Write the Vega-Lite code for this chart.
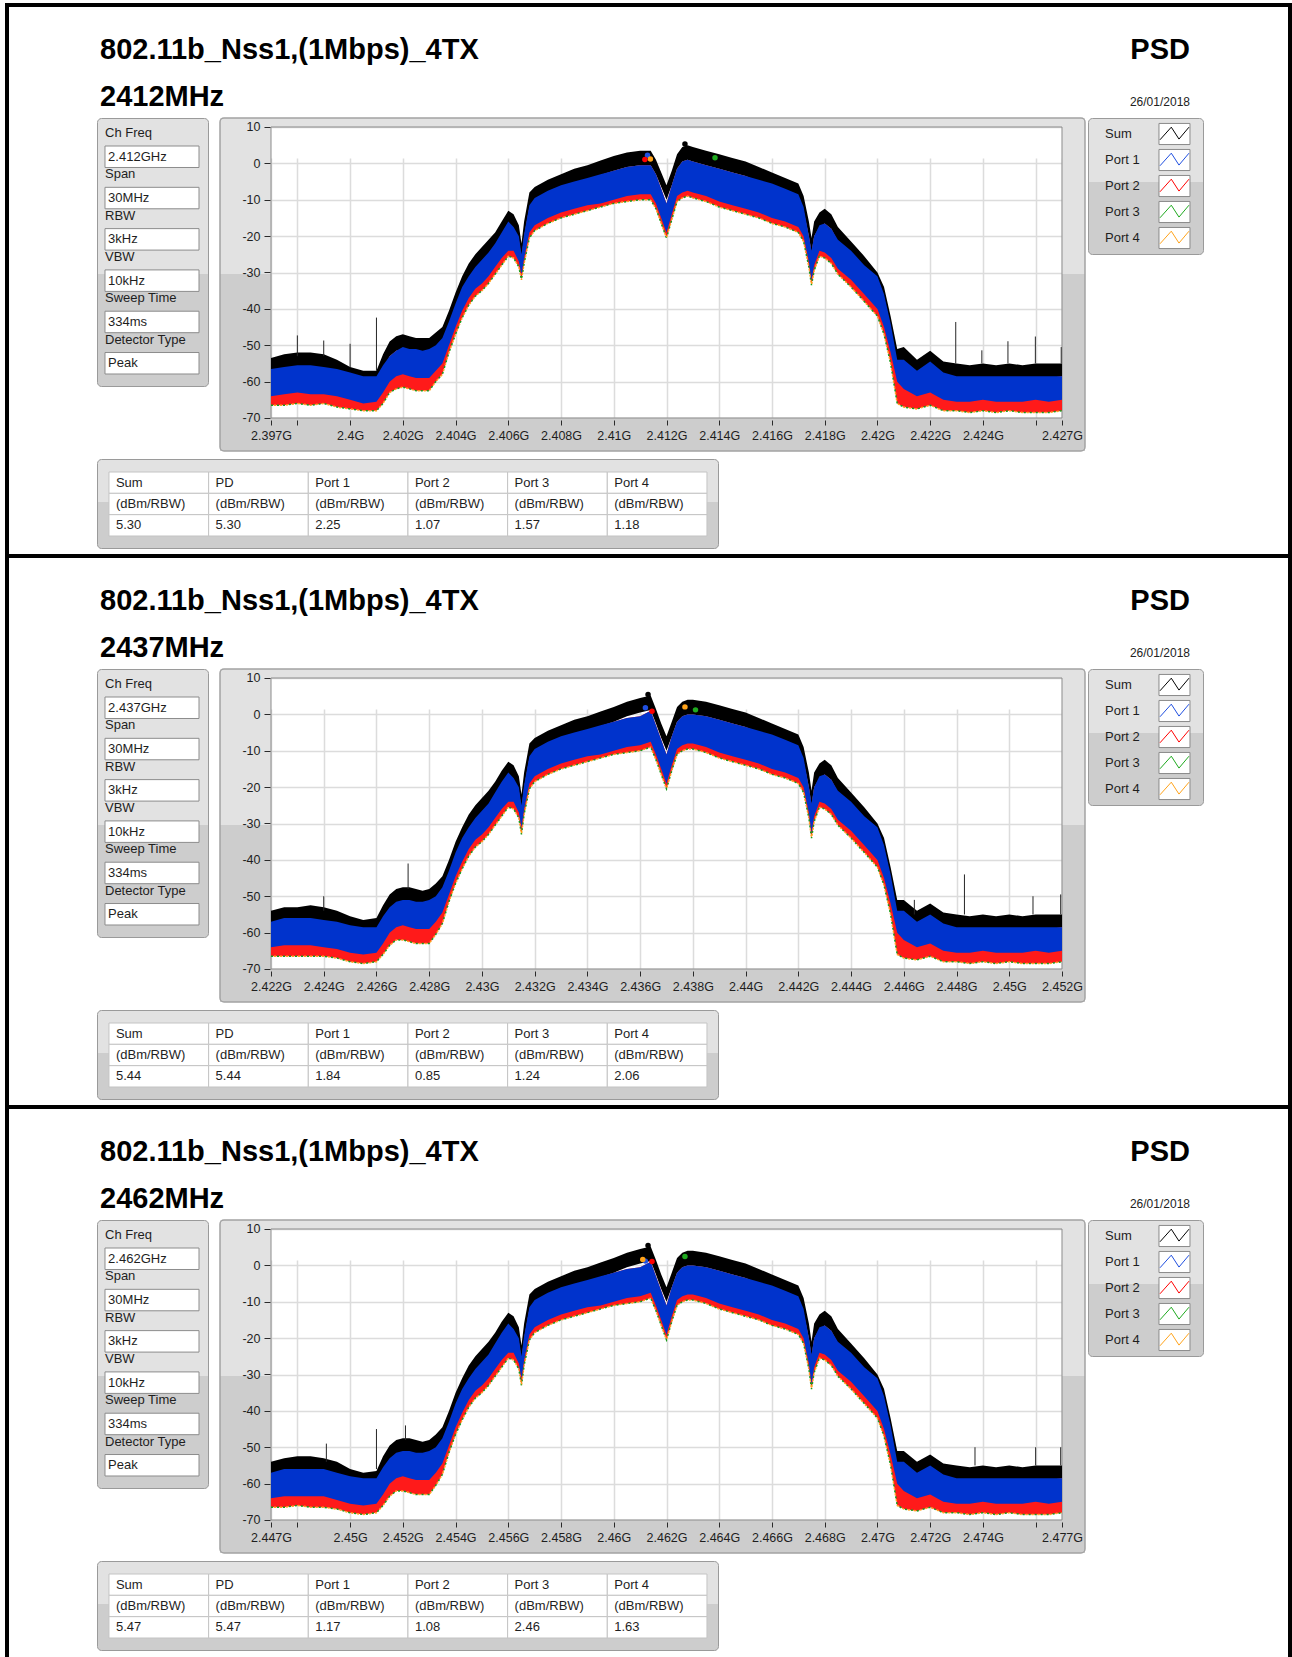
{
"$schema":"https://vega.github.io/schema/vega-lite/v6.json",
"padding":{"left":5,"top":3,"right":0,"bottom":0},
"background":"white",
"config":{"view":{"stroke":null},"font":"Liberation Sans","axis":{"labelFont":"Liberation Sans","labelFontSize":12.5,"labelColor":"#1e1e1e","tickColor":"#2a2a2a","tickWidth":1,"gridColor":"#dcdcdc","gridWidth":1.5,"domain":false,"minExtent":0}},
"spacing":0,
"hconcat":[
{"width":4,"height":1654,"data":{"values":[]},"mark":"rect","view":{"fill":"#000000","stroke":null}},
{"spacing":5,"vconcat":[
{"spacing":0,"vconcat":[
 {"width":1279,"height":4,"data":{"values":[]},"mark":"rect","view":{"fill":"#000000","stroke":null}},
 {"width":1279,"height":110,"view":{"fill":"white","stroke":null},
  "data":{"values":[{"c":"L","l":"1","t":"802.11b_Nss1,(1Mbps)_4TX"},{"c":"L","l":"2","t":"2412MHz"},{"c":"R","l":"1","t":"PSD"},{"c":"R","l":"2","t":"26/01/2018"}]},
  "encoding":{"x":{"field":"c","type":"nominal","scale":{"type":"point","domain":["L","R"],"padding":0.0867,"align":0.4815},"axis":null},"y":{"field":"l","type":"nominal","scale":{"type":"point","domain":["1","2"],"padding":0.67,"align":0.825},"axis":null},"text":{"field":"t"}},
  "layer":[
   {"transform":[{"filter":"datum.c=='L'"}],"mark":{"type":"text","align":"left","baseline":"alphabetic","font":"Liberation Sans","fontSize":29,"fontWeight":"bold","color":"#000000"}},
   {"transform":[{"filter":"datum.c=='R'&&datum.l=='1'"}],"mark":{"type":"text","align":"right","baseline":"alphabetic","font":"Liberation Sans","fontSize":29,"fontWeight":"bold","color":"#000000"}},
   {"transform":[{"filter":"datum.c=='R'&&datum.l=='2'"}],"mark":{"type":"text","align":"right","baseline":"alphabetic","font":"Liberation Sans","fontSize":12,"color":"#222222"}}
  ]},
 {"spacing":0,"hconcat":[
  {"width":87,"height":1,"data":{"values":[]},"mark":"rect","view":{"fill":"white","stroke":null}},
  {"width":111,"height":268,
   "view":{"fill":{"gradient":"linear","x1":0,"y1":0,"x2":0,"y2":1,"stops":[{"offset":0,"color":"#e2e2e2"},{"offset":0.58,"color":"#e2e2e2"},{"offset":0.58,"color":"#cdcdcd"},{"offset":1,"color":"#cdcdcd"}]},"stroke":"#9a9a9a","cornerRadius":4},
   "data":{"values":[{"p":"Ch Freq","v":"2.412GHz"},{"p":"Span","v":"30MHz"},{"p":"RBW","v":"3kHz"},{"p":"VBW","v":"10kHz"},{"p":"Sweep Time","v":"334ms"},{"p":"Detector Type","v":"Peak"}]},
   "resolve":{"scale":{"y":"independent"}},
   "layer":[
    {"mark":{"type":"rect","fill":"white","stroke":"#8c8c8c","strokeWidth":1},"encoding":{"y":{"field":"p","type":"nominal","sort":null,"scale":{"type":"band","paddingInner":0.48,"paddingOuter":0.4845,"align":0.7},"axis":null},"x":{"datum":0.072,"type":"quantitative","scale":{"domain":[0,1]},"axis":null},"x2":{"datum":0.919}}},
    {"mark":{"type":"text","align":"left","baseline":"middle","font":"Liberation Sans","fontSize":13,"color":"#1e1e1e"},"encoding":{"y":{"field":"p","type":"nominal","sort":null,"scale":{"type":"band","paddingInner":0.48,"paddingOuter":0.4845,"align":0.7},"axis":null},"x":{"datum":0.1,"type":"quantitative","scale":{"domain":[0,1]},"axis":null},"text":{"field":"v"}}},
    {"mark":{"type":"text","align":"left","baseline":"middle","font":"Liberation Sans","fontSize":13,"color":"#1e1e1e"},"encoding":{"y":{"field":"p","type":"nominal","sort":null,"scale":{"type":"point","padding":0.7445,"align":0.244},"axis":null},"x":{"datum":0.072,"type":"quantitative","scale":{"domain":[0,1]},"axis":null},"text":{"field":"p"}}}
   ]},
  {"width":878,"height":340,"view":{"fill":"white","stroke":null},
   "resolve":{"scale":{"x":"independent","y":"independent"}},
   "layer":[
    {"data":{"values":[{}]},
     "layer":[
      {"mark":{"type":"rect","fill":"white"},"encoding":{"x":{"datum":2394.6485,"type":"quantitative","scale":{"domain":[2394.6485,2427.9482],"nice":false,"zero":false},"title":null,"axis":{"orient":"bottom","grid":false,"domain":false,"values":[2397,2398,2400,2402,2404,2406,2408,2410,2412,2414,2416,2418,2420,2422,2424,2426,2427],"labelExpr":"datum.value==2398||datum.value==2426?'':format(datum.value/1000,'.4~f')+'G'","tickSize":5,"offset":-38,"labelPadding":4,"labelFlush":false,"labelOverlap":false,"zindex":1,"minExtent":0}},"x2":{"datum":2395.0657},"y":{"datum":-80.9966,"type":"quantitative","scale":{"domain":[-80.9966,12.4742],"nice":false,"zero":false},"title":null,"axis":{"orient":"left","grid":false,"domain":false,"values":[-70,-60,-50,-40,-30,-20,-10,0,10],"labelExpr":"''+datum.value","tickSize":6,"offset":-61,"labelPadding":4,"zindex":1,"minExtent":0}},"y2":{"datum":12.4742}}},
      {"mark":{"type":"rect","fill":"white"},"encoding":{"x":{"datum":2427.8723,"type":"quantitative","title":null},"x2":{"datum":2427.9482},"y":{"datum":-80.9966,"type":"quantitative","title":null},"y2":{"datum":12.4742}}},
      {"mark":{"type":"rect","fill":"white"},"encoding":{"x":{"datum":2394.6485,"type":"quantitative","title":null},"x2":{"datum":2427.9482},"y":{"datum":-80.9966,"type":"quantitative","title":null},"y2":{"datum":-79.072}}},
      {"mark":{"type":"rect","fill":{"gradient":"linear","x1":0,"y1":0,"x2":0,"y2":1,"stops":[{"offset":0,"color":"#e2e2e2"},{"offset":0.4685,"color":"#e2e2e2"},{"offset":0.4685,"color":"#cdcdcd"},{"offset":1,"color":"#cdcdcd"}]}},"encoding":{"x":{"datum":2395.0657,"type":"quantitative","title":null},"x2":{"datum":2397},"y":{"datum":-79.072,"type":"quantitative","title":null},"y2":{"datum":12.4742}}},
      {"mark":{"type":"rect","fill":{"gradient":"linear","x1":0,"y1":0,"x2":0,"y2":1,"stops":[{"offset":0,"color":"#e2e2e2"},{"offset":0.4685,"color":"#e2e2e2"},{"offset":0.4685,"color":"#cdcdcd"},{"offset":1,"color":"#cdcdcd"}]}},"encoding":{"x":{"datum":2427,"type":"quantitative","title":null},"x2":{"datum":2427.8723},"y":{"datum":-79.072,"type":"quantitative","title":null},"y2":{"datum":12.4742}}},
      {"mark":{"type":"rect","fill":"#e2e2e2"},"encoding":{"x":{"datum":2397,"type":"quantitative","title":null},"x2":{"datum":2427},"y":{"datum":10,"type":"quantitative","title":null},"y2":{"datum":12.4742}}},
      {"mark":{"type":"rect","fill":"#cdcdcd"},"encoding":{"x":{"datum":2397,"type":"quantitative","title":null},"x2":{"datum":2427},"y":{"datum":-79.072,"type":"quantitative","title":null},"y2":{"datum":-70}}},
      {"mark":{"type":"rect","fillOpacity":0,"stroke":"#a3a3a3","strokeWidth":1.5,"cornerRadius":4},"encoding":{"x":{"datum":2395.0657,"type":"quantitative","title":null},"x2":{"datum":2427.8723},"y":{"datum":-79.072,"type":"quantitative","title":null},"y2":{"datum":12.4742}}},
      {"mark":{"type":"rect","fillOpacity":0,"stroke":"#8c8c8c","strokeWidth":1},"encoding":{"x":{"datum":2397,"type":"quantitative","title":null},"x2":{"datum":2427},"y":{"datum":-70,"type":"quantitative","title":null},"y2":{"datum":10}}}
     ]},
    {"data":{"values":[
{"f":2397,"sh":-53.5,"sl":-57.5,"bh":-56.5,"bl":-64,"rl":-66.5},
{"f":2397.5,"sh":-52.5,"sl":-56.5,"bh":-56,"bl":-63.5,"rl":-66.5},
{"f":2398,"sh":-52,"sl":-56,"bh":-55.5,"bl":-63,"rl":-66},
{"f":2398.5,"sh":-52,"sl":-56,"bh":-55.5,"bl":-63.5,"rl":-66.5},
{"f":2399,"sh":-52.5,"sl":-56.5,"bh":-56,"bl":-63.5,"rl":-66},
{"f":2399.5,"sh":-54,"sl":-58,"bh":-56.5,"bl":-64,"rl":-67},
{"f":2400,"sh":-56,"sl":-59.5,"bh":-57.5,"bl":-65,"rl":-67.5},
{"f":2400.5,"sh":-57,"sl":-60,"bh":-58.5,"bl":-66,"rl":-68},
{"f":2401,"sh":-57,"sl":-60,"bh":-58.5,"bl":-65.5,"rl":-68},
{"f":2401.25,"sh":-52.5,"sl":-56.5,"bh":-55.5,"bl":-63,"rl":-66},
{"f":2401.5,"sh":-49,"sl":-53,"bh":-53,"bl":-60,"rl":-63},
{"f":2401.75,"sh":-47.5,"sl":-51.5,"bh":-51.5,"bl":-58.5,"rl":-62},
{"f":2402,"sh":-47,"sl":-51,"bh":-50.5,"bl":-58,"rl":-61.5},
{"f":2402.25,"sh":-47.5,"sl":-51.5,"bh":-51,"bl":-58.5,"rl":-62},
{"f":2402.5,"sh":-48,"sl":-52,"bh":-51,"bl":-59,"rl":-62.5},
{"f":2402.75,"sh":-48,"sl":-52,"bh":-51.5,"bl":-59,"rl":-62.5},
{"f":2403,"sh":-48,"sl":-52,"bh":-51,"bl":-59,"rl":-62.5},
{"f":2403.25,"sh":-46.5,"sl":-50.5,"bh":-50,"bl":-57,"rl":-60},
{"f":2403.5,"sh":-45,"sl":-49,"bh":-48,"bl":-55,"rl":-58},
{"f":2403.75,"sh":-40.5,"sl":-44.5,"bh":-43.5,"bl":-50,"rl":-52},
{"f":2404,"sh":-35.5,"sl":-39.5,"bh":-38.5,"bl":-45,"rl":-47},
{"f":2404.25,"sh":-31,"sl":-35,"bh":-34,"bl":-40.5,"rl":-42.5},
{"f":2404.5,"sh":-27.5,"sl":-31.5,"bh":-31,"bl":-37,"rl":-39},
{"f":2404.75,"sh":-25,"sl":-29,"bh":-28.5,"bl":-34.5,"rl":-36.5},
{"f":2405,"sh":-23,"sl":-27,"bh":-26.5,"bl":-33,"rl":-35},
{"f":2405.25,"sh":-21,"sl":-25,"bh":-24.5,"bl":-31,"rl":-33},
{"f":2405.5,"sh":-19,"sl":-23,"bh":-22,"bl":-28.5,"rl":-30.5},
{"f":2405.75,"sh":-16,"sl":-20,"bh":-19,"bl":-26,"rl":-28},
{"f":2406,"sh":-13,"sl":-17,"bh":-16,"bl":-24,"rl":-25.5},
{"f":2406.2,"sh":-14,"sl":-18,"bh":-17.5,"bl":-24,"rl":-26},
{"f":2406.4,"sh":-17,"sl":-21,"bh":-20,"bl":-27,"rl":-28.5},
{"f":2406.5,"sh":-22,"sl":-26,"bh":-25,"bl":-30.5,"rl":-32},
{"f":2406.6,"sh":-16,"sl":-20,"bh":-19.5,"bl":-26,"rl":-27.5},
{"f":2406.8,"sh":-8,"sl":-12,"bh":-11.5,"bl":-19,"rl":-20.5},
{"f":2407,"sh":-6.5,"sl":-10.5,"bh":-9.5,"bl":-17,"rl":-18.5},
{"f":2407.5,"sh":-4.5,"sl":-8.5,"bh":-7.5,"bl":-15,"rl":-16.5},
{"f":2408,"sh":-3,"sl":-7,"bh":-6,"bl":-13.5,"rl":-15},
{"f":2408.5,"sh":-1.5,"sl":-5.5,"bh":-5,"bl":-12.5,"rl":-14},
{"f":2409,"sh":-0.5,"sl":-4.5,"bh":-4,"bl":-11.5,"rl":-13},
{"f":2409.5,"sh":0.8,"sl":-3.2,"bh":-3,"bl":-11,"rl":-12},
{"f":2410,"sh":2,"sl":-2,"bh":-2,"bl":-10,"rl":-11},
{"f":2410.5,"sh":3,"sl":-1,"bh":-1,"bl":-9,"rl":-10.5},
{"f":2411,"sh":3.5,"sl":-0.5,"bh":-0.5,"bl":-8.5,"rl":-10},
{"f":2411.4,"sh":3.5,"sl":-0.5,"bh":-0.5,"bl":-8.5,"rl":-10},
{"f":2411.6,"sh":1,"sl":-3,"bh":-3,"bl":-11,"rl":-12.5},
{"f":2411.8,"sh":-2.5,"sl":-6.5,"bh":-7,"bl":-15,"rl":-16.5},
{"f":2412,"sh":-6,"sl":-10,"bh":-11,"bl":-19,"rl":-20.5},
{"f":2412.2,"sh":-2,"sl":-6,"bh":-6,"bl":-14,"rl":-15.5},
{"f":2412.4,"sh":2.5,"sl":-1.5,"bh":-1.5,"bl":-9,"rl":-10.5},
{"f":2412.6,"sh":4.5,"sl":0.5,"bh":0.5,"bl":-8,"rl":-9.5},
{"f":2412.8,"sh":5,"sl":1,"bh":1,"bl":-7.5,"rl":-9},
{"f":2413,"sh":4.5,"sl":0.5,"bh":0.5,"bl":-8,"rl":-9.5},
{"f":2413.5,"sh":3.5,"sl":-0.5,"bh":-0.5,"bl":-9,"rl":-10.5},
{"f":2414,"sh":2.5,"sl":-1.5,"bh":-1.5,"bl":-10.5,"rl":-12},
{"f":2414.5,"sh":1.5,"sl":-2.5,"bh":-2.5,"bl":-11.5,"rl":-13},
{"f":2415,"sh":0.5,"sl":-3.5,"bh":-3.5,"bl":-12.5,"rl":-14},
{"f":2415.5,"sh":-1,"sl":-5,"bh":-4.5,"bl":-13.5,"rl":-15},
{"f":2416,"sh":-2.5,"sl":-6.5,"bh":-5.5,"bl":-15,"rl":-16.5},
{"f":2416.5,"sh":-4,"sl":-8,"bh":-7,"bl":-16,"rl":-17.5},
{"f":2417,"sh":-5.5,"sl":-9.5,"bh":-8.5,"bl":-17.5,"rl":-19},
{"f":2417.2,"sh":-9,"sl":-13,"bh":-12,"bl":-20,"rl":-21.5},
{"f":2417.4,"sh":-16,"sl":-20,"bh":-20,"bl":-27,"rl":-28.5},
{"f":2417.5,"sh":-20.5,"sl":-24.5,"bh":-24,"bl":-32,"rl":-33.5},
{"f":2417.6,"sh":-16,"sl":-20,"bh":-20,"bl":-28,"rl":-29.5},
{"f":2417.8,"sh":-13.5,"sl":-17.5,"bh":-17,"bl":-24,"rl":-25.5},
{"f":2418,"sh":-12.5,"sl":-16.5,"bh":-16.5,"bl":-24.5,"rl":-26},
{"f":2418.25,"sh":-14,"sl":-18,"bh":-18,"bl":-26,"rl":-27.5},
{"f":2418.5,"sh":-17.5,"sl":-21.5,"bh":-21,"bl":-29,"rl":-30.5},
{"f":2419,"sh":-21.5,"sl":-25.5,"bh":-24,"bl":-32,"rl":-34},
{"f":2419.5,"sh":-25.5,"sl":-29.5,"bh":-28,"bl":-36,"rl":-38},
{"f":2420,"sh":-30,"sl":-34,"bh":-31,"bl":-40,"rl":-42},
{"f":2420.25,"sh":-34,"sl":-38,"bh":-36,"bl":-45,"rl":-47},
{"f":2420.5,"sh":-42,"sl":-46,"bh":-44,"bl":-52,"rl":-55},
{"f":2420.75,"sh":-51,"sl":-55,"bh":-54,"bl":-60,"rl":-66},
{"f":2421,"sh":-50.5,"sl":-54.5,"bh":-54,"bl":-62,"rl":-67},
{"f":2421.5,"sh":-54,"sl":-58,"bh":-57,"bl":-64,"rl":-67.5},
{"f":2422,"sh":-51.5,"sl":-55.5,"bh":-54.5,"bl":-63,"rl":-66.5},
{"f":2422.5,"sh":-54.5,"sl":-58.5,"bh":-57.5,"bl":-65,"rl":-68},
{"f":2423,"sh":-55,"sl":-59,"bh":-58.5,"bl":-65.5,"rl":-68},
{"f":2423.5,"sh":-55.5,"sl":-59,"bh":-58.5,"bl":-65.5,"rl":-68.5},
{"f":2424,"sh":-55,"sl":-59,"bh":-58.5,"bl":-65,"rl":-68},
{"f":2424.5,"sh":-55.5,"sl":-59,"bh":-58.5,"bl":-65.5,"rl":-68.5},
{"f":2425,"sh":-55,"sl":-59,"bh":-58.5,"bl":-65.5,"rl":-68},
{"f":2425.5,"sh":-55.5,"sl":-59,"bh":-58.5,"bl":-65.5,"rl":-68.5},
{"f":2426,"sh":-55,"sl":-59,"bh":-58.5,"bl":-65,"rl":-68.5},
{"f":2426.5,"sh":-55,"sl":-59,"bh":-58.5,"bl":-65.5,"rl":-68.5},
{"f":2427,"sh":-55,"sl":-58.5,"bh":-58.5,"bl":-65,"rl":-68}
     ]},
     "encoding":{"x":{"field":"f","type":"quantitative","scale":{"domain":[2397,2427],"range":[62,853],"nice":false,"zero":false},"title":null,"axis":{"orient":"bottom","grid":true,"labels":false,"ticks":false,"domain":false,"values":[2397,2398,2400,2402,2404,2406,2408,2410,2412,2414,2416,2418,2420,2422,2424,2426,2427],"zindex":0,"minExtent":0}}},
     "layer":[
      {"mark":{"type":"area","color":"#ff1a1a","opacity":1},"encoding":{"y":{"field":"rl","type":"quantitative","scale":{"domain":[-70,10],"range":[300,9],"nice":false,"zero":false},"title":null,"axis":{"orient":"left","grid":true,"labels":false,"ticks":false,"domain":false,"values":[-70,-60,-50,-40,-30,-20,-10,0,10],"zindex":0,"minExtent":0}},"y2":{"field":"bh"}}},
      {"mark":{"type":"line","color":"#1a9e1a","strokeWidth":1.5,"strokeDash":[2,4]},"encoding":{"y":{"field":"rl","type":"quantitative","title":null}}},
      {"mark":{"type":"line","color":"#ffa31a","strokeWidth":1.5,"strokeDash":[2,4],"strokeDashOffset":3},"encoding":{"y":{"field":"rl","type":"quantitative","title":null}}},
      {"mark":{"type":"area","color":"#000000","opacity":1},"encoding":{"y":{"field":"sl","type":"quantitative","title":null},"y2":{"field":"sh"}}},
      {"mark":{"type":"area","color":"#0033cc","opacity":1},"encoding":{"y":{"field":"bl","type":"quantitative","title":null},"y2":{"field":"bh"}}},
      {"data":{"values":[{"f":2398,"lo":-53,"hi":-47.3},{"f":2399,"lo":-53,"hi":-48.7},{"f":2400,"lo":-56,"hi":-49.6},{"f":2401,"lo":-57,"hi":-42.4},{"f":2422.97,"lo":-55,"hi":-43.6},{"f":2423.96,"lo":-55,"hi":-51.4},{"f":2424.95,"lo":-55,"hi":-48.9},{"f":2425.99,"lo":-55,"hi":-47.6},{"f":2426.97,"lo":-55,"hi":-50.5}]},
       "mark":{"type":"rule","color":"#262626","strokeWidth":1},"encoding":{"y":{"field":"lo","type":"quantitative","title":null},"y2":{"field":"hi"}}},
      {"data":{"values":[{"f":2412.7,"db":5.3,"s":"Sum"},{"f":2411.28,"db":2.25,"s":"Port 1"},{"f":2411.18,"db":1.07,"s":"Port 2"},{"f":2413.84,"db":1.57,"s":"Port 3"},{"f":2411.39,"db":1.18,"s":"Port 4"}]},
       "mark":{"type":"point","filled":true,"size":30,"opacity":1},"encoding":{"y":{"field":"db","type":"quantitative","title":null},"color":{"field":"s","type":"nominal","scale":{"domain":["Sum","Port 1","Port 2","Port 3","Port 4"],"range":["#000000","#1f4fe0","#ff0000","#1faa1f","#ffa31a"]},"legend":null}}}
     ]}
   ]},
  {"width":115,"height":136,
   "view":{"fill":{"gradient":"linear","x1":0,"y1":0,"x2":0,"y2":1,"stops":[{"offset":0,"color":"#e2e2e2"},{"offset":0.47,"color":"#e2e2e2"},{"offset":0.47,"color":"#cdcdcd"},{"offset":1,"color":"#cdcdcd"}]},"stroke":"#9a9a9a","cornerRadius":4},
   "data":{"values":[{"s":"Sum"},{"s":"Port 1"},{"s":"Port 2"},{"s":"Port 3"},{"s":"Port 4"}]},
   "encoding":{"y":{"field":"s","type":"nominal","sort":null,"scale":{"type":"point","padding":0.615},"axis":null}},
   "layer":[
    {"mark":{"type":"text","align":"left","baseline":"middle","font":"Liberation Sans","fontSize":13,"color":"#1e1e1e"},"encoding":{"x":{"datum":0.148,"type":"quantitative","scale":{"domain":[0,1]},"axis":null},"text":{"field":"s"}}},
    {"mark":{"type":"point","shape":"M-1,-0.68L1,-0.68L1,0.68L-1,0.68Z","size":961,"filled":true,"fill":"white","stroke":"#8a8a8a","strokeWidth":1,"opacity":1},"encoding":{"x":{"datum":0.752,"type":"quantitative","scale":{"domain":[0,1]},"axis":null}}},
    {"mark":{"type":"point","shape":"M-1,0.4L-0.22,-0.47L0.31,0.35L1,-0.47","size":841,"filled":false,"strokeWidth":1,"opacity":1},"encoding":{"x":{"datum":0.752,"type":"quantitative","scale":{"domain":[0,1]},"axis":null},"color":{"field":"s","type":"nominal","scale":{"domain":["Sum","Port 1","Port 2","Port 3","Port 4"],"range":["#000000","#1f4fe0","#ff0000","#1faa1f","#ffa31a"]},"legend":null}}}
   ]}
 ]},
 {"spacing":0,"hconcat":[
  {"width":87,"height":1,"data":{"values":[]},"mark":"rect","view":{"fill":"white","stroke":null}},
  {"width":621,"height":89,
   "view":{"fill":{"gradient":"linear","x1":0,"y1":0,"x2":0,"y2":1,"stops":[{"offset":0,"color":"#e2e2e2"},{"offset":0.48,"color":"#e2e2e2"},{"offset":0.48,"color":"#cdcdcd"},{"offset":1,"color":"#cdcdcd"}]},"stroke":"#9a9a9a","cornerRadius":4},
   "data":{"values":[{"name":"Sum","unit":"(dBm/RBW)","value":"5.30"},{"name":"PD","unit":"(dBm/RBW)","value":"5.30"},{"name":"Port 1","unit":"(dBm/RBW)","value":"2.25"},{"name":"Port 2","unit":"(dBm/RBW)","value":"1.07"},{"name":"Port 3","unit":"(dBm/RBW)","value":"1.57"},{"name":"Port 4","unit":"(dBm/RBW)","value":"1.18"}]},
   "transform":[{"fold":["name","unit","value"],"as":["row","txt"]}],
   "encoding":{"x":{"field":"name","type":"nominal","sort":null,"scale":{"type":"band","paddingInner":0,"paddingOuter":0.1154,"align":0.52},"axis":null},"y":{"field":"row","type":"nominal","sort":["name","unit","value"],"scale":{"type":"band","paddingInner":0,"paddingOuter":0.586,"align":0.52},"axis":null}},
   "layer":[
    {"mark":{"type":"rect","fill":"white","stroke":"#c4c4c4","strokeWidth":1}},
    {"mark":{"type":"text","align":"left","baseline":"middle","font":"Liberation Sans","fontSize":13,"color":"#1e1e1e"},"encoding":{"x":{"field":"name","type":"nominal","sort":null,"bandPosition":0.07,"scale":{"type":"band","paddingInner":0,"paddingOuter":0.1154,"align":0.52},"axis":null},"text":{"field":"txt"}}}
   ]}
 ]}
]},
{"spacing":0,"vconcat":[
 {"width":1279,"height":4,"data":{"values":[]},"mark":"rect","view":{"fill":"#000000","stroke":null}},
 {"width":1279,"height":110,"view":{"fill":"white","stroke":null},
  "data":{"values":[{"c":"L","l":"1","t":"802.11b_Nss1,(1Mbps)_4TX"},{"c":"L","l":"2","t":"2437MHz"},{"c":"R","l":"1","t":"PSD"},{"c":"R","l":"2","t":"26/01/2018"}]},
  "encoding":{"x":{"field":"c","type":"nominal","scale":{"type":"point","domain":["L","R"],"padding":0.0867,"align":0.4815},"axis":null},"y":{"field":"l","type":"nominal","scale":{"type":"point","domain":["1","2"],"padding":0.67,"align":0.825},"axis":null},"text":{"field":"t"}},
  "layer":[
   {"transform":[{"filter":"datum.c=='L'"}],"mark":{"type":"text","align":"left","baseline":"alphabetic","font":"Liberation Sans","fontSize":29,"fontWeight":"bold","color":"#000000"}},
   {"transform":[{"filter":"datum.c=='R'&&datum.l=='1'"}],"mark":{"type":"text","align":"right","baseline":"alphabetic","font":"Liberation Sans","fontSize":29,"fontWeight":"bold","color":"#000000"}},
   {"transform":[{"filter":"datum.c=='R'&&datum.l=='2'"}],"mark":{"type":"text","align":"right","baseline":"alphabetic","font":"Liberation Sans","fontSize":12,"color":"#222222"}}
  ]},
 {"spacing":0,"hconcat":[
  {"width":87,"height":1,"data":{"values":[]},"mark":"rect","view":{"fill":"white","stroke":null}},
  {"width":111,"height":268,
   "view":{"fill":{"gradient":"linear","x1":0,"y1":0,"x2":0,"y2":1,"stops":[{"offset":0,"color":"#e2e2e2"},{"offset":0.58,"color":"#e2e2e2"},{"offset":0.58,"color":"#cdcdcd"},{"offset":1,"color":"#cdcdcd"}]},"stroke":"#9a9a9a","cornerRadius":4},
   "data":{"values":[{"p":"Ch Freq","v":"2.437GHz"},{"p":"Span","v":"30MHz"},{"p":"RBW","v":"3kHz"},{"p":"VBW","v":"10kHz"},{"p":"Sweep Time","v":"334ms"},{"p":"Detector Type","v":"Peak"}]},
   "resolve":{"scale":{"y":"independent"}},
   "layer":[
    {"mark":{"type":"rect","fill":"white","stroke":"#8c8c8c","strokeWidth":1},"encoding":{"y":{"field":"p","type":"nominal","sort":null,"scale":{"type":"band","paddingInner":0.48,"paddingOuter":0.4845,"align":0.7},"axis":null},"x":{"datum":0.072,"type":"quantitative","scale":{"domain":[0,1]},"axis":null},"x2":{"datum":0.919}}},
    {"mark":{"type":"text","align":"left","baseline":"middle","font":"Liberation Sans","fontSize":13,"color":"#1e1e1e"},"encoding":{"y":{"field":"p","type":"nominal","sort":null,"scale":{"type":"band","paddingInner":0.48,"paddingOuter":0.4845,"align":0.7},"axis":null},"x":{"datum":0.1,"type":"quantitative","scale":{"domain":[0,1]},"axis":null},"text":{"field":"v"}}},
    {"mark":{"type":"text","align":"left","baseline":"middle","font":"Liberation Sans","fontSize":13,"color":"#1e1e1e"},"encoding":{"y":{"field":"p","type":"nominal","sort":null,"scale":{"type":"point","padding":0.7445,"align":0.244},"axis":null},"x":{"datum":0.072,"type":"quantitative","scale":{"domain":[0,1]},"axis":null},"text":{"field":"p"}}}
   ]},
  {"width":878,"height":340,"view":{"fill":"white","stroke":null},
   "resolve":{"scale":{"x":"independent","y":"independent"}},
   "layer":[
    {"data":{"values":[{}]},
     "layer":[
      {"mark":{"type":"rect","fill":"white"},"encoding":{"x":{"datum":2419.6485,"type":"quantitative","scale":{"domain":[2419.6485,2452.9482],"nice":false,"zero":false},"title":null,"axis":{"orient":"bottom","grid":false,"domain":false,"values":[2422,2424,2426,2428,2430,2432,2434,2436,2438,2440,2442,2444,2446,2448,2450,2452],"labelExpr":"format(datum.value/1000,'.4~f')+'G'","tickSize":5,"offset":-38,"labelPadding":4,"labelFlush":false,"labelOverlap":false,"zindex":1,"minExtent":0}},"x2":{"datum":2420.0657},"y":{"datum":-80.9966,"type":"quantitative","scale":{"domain":[-80.9966,12.4742],"nice":false,"zero":false},"title":null,"axis":{"orient":"left","grid":false,"domain":false,"values":[-70,-60,-50,-40,-30,-20,-10,0,10],"labelExpr":"''+datum.value","tickSize":6,"offset":-61,"labelPadding":4,"zindex":1,"minExtent":0}},"y2":{"datum":12.4742}}},
      {"mark":{"type":"rect","fill":"white"},"encoding":{"x":{"datum":2452.8723,"type":"quantitative","title":null},"x2":{"datum":2452.9482},"y":{"datum":-80.9966,"type":"quantitative","title":null},"y2":{"datum":12.4742}}},
      {"mark":{"type":"rect","fill":"white"},"encoding":{"x":{"datum":2419.6485,"type":"quantitative","title":null},"x2":{"datum":2452.9482},"y":{"datum":-80.9966,"type":"quantitative","title":null},"y2":{"datum":-79.072}}},
      {"mark":{"type":"rect","fill":{"gradient":"linear","x1":0,"y1":0,"x2":0,"y2":1,"stops":[{"offset":0,"color":"#e2e2e2"},{"offset":0.4685,"color":"#e2e2e2"},{"offset":0.4685,"color":"#cdcdcd"},{"offset":1,"color":"#cdcdcd"}]}},"encoding":{"x":{"datum":2420.0657,"type":"quantitative","title":null},"x2":{"datum":2422},"y":{"datum":-79.072,"type":"quantitative","title":null},"y2":{"datum":12.4742}}},
      {"mark":{"type":"rect","fill":{"gradient":"linear","x1":0,"y1":0,"x2":0,"y2":1,"stops":[{"offset":0,"color":"#e2e2e2"},{"offset":0.4685,"color":"#e2e2e2"},{"offset":0.4685,"color":"#cdcdcd"},{"offset":1,"color":"#cdcdcd"}]}},"encoding":{"x":{"datum":2452,"type":"quantitative","title":null},"x2":{"datum":2452.8723},"y":{"datum":-79.072,"type":"quantitative","title":null},"y2":{"datum":12.4742}}},
      {"mark":{"type":"rect","fill":"#e2e2e2"},"encoding":{"x":{"datum":2422,"type":"quantitative","title":null},"x2":{"datum":2452},"y":{"datum":10,"type":"quantitative","title":null},"y2":{"datum":12.4742}}},
      {"mark":{"type":"rect","fill":"#cdcdcd"},"encoding":{"x":{"datum":2422,"type":"quantitative","title":null},"x2":{"datum":2452},"y":{"datum":-79.072,"type":"quantitative","title":null},"y2":{"datum":-70}}},
      {"mark":{"type":"rect","fillOpacity":0,"stroke":"#a3a3a3","strokeWidth":1.5,"cornerRadius":4},"encoding":{"x":{"datum":2420.0657,"type":"quantitative","title":null},"x2":{"datum":2452.8723},"y":{"datum":-79.072,"type":"quantitative","title":null},"y2":{"datum":12.4742}}},
      {"mark":{"type":"rect","fillOpacity":0,"stroke":"#8c8c8c","strokeWidth":1},"encoding":{"x":{"datum":2422,"type":"quantitative","title":null},"x2":{"datum":2452},"y":{"datum":-70,"type":"quantitative","title":null},"y2":{"datum":10}}}
     ]},
    {"data":{"values":[
{"f":2422,"sh":-54,"sl":-58,"bh":-57,"bl":-64,"rl":-66.5},
{"f":2422.5,"sh":-53,"sl":-57,"bh":-56,"bl":-63.5,"rl":-66.5},
{"f":2423,"sh":-53,"sl":-57,"bh":-56,"bl":-63.5,"rl":-66.5},
{"f":2423.5,"sh":-52.5,"sl":-56.5,"bh":-56,"bl":-63.5,"rl":-66.5},
{"f":2424,"sh":-53,"sl":-57,"bh":-56.5,"bl":-64,"rl":-66.5},
{"f":2424.5,"sh":-54,"sl":-58,"bh":-57,"bl":-64.5,"rl":-67},
{"f":2425,"sh":-55.5,"sl":-59.5,"bh":-58,"bl":-65.5,"rl":-68},
{"f":2425.5,"sh":-56.5,"sl":-60,"bh":-58.5,"bl":-66,"rl":-68.5},
{"f":2426,"sh":-56,"sl":-60,"bh":-58.5,"bl":-65.5,"rl":-68},
{"f":2426.25,"sh":-52.5,"sl":-56.5,"bh":-55.5,"bl":-63,"rl":-66},
{"f":2426.5,"sh":-49.5,"sl":-53.5,"bh":-53,"bl":-60,"rl":-63.5},
{"f":2426.75,"sh":-48,"sl":-52,"bh":-51.5,"bl":-58.5,"rl":-62},
{"f":2427,"sh":-47.5,"sl":-51.5,"bh":-51,"bl":-58,"rl":-62},
{"f":2427.25,"sh":-47.5,"sl":-51.5,"bh":-51,"bl":-58.5,"rl":-62.5},
{"f":2427.5,"sh":-48,"sl":-52,"bh":-51.5,"bl":-59,"rl":-63},
{"f":2427.75,"sh":-48.5,"sl":-52.5,"bh":-51.5,"bl":-59,"rl":-63},
{"f":2428,"sh":-48,"sl":-52,"bh":-51,"bl":-59,"rl":-63},
{"f":2428.25,"sh":-46.5,"sl":-50.5,"bh":-50,"bl":-57,"rl":-60.5},
{"f":2428.5,"sh":-44.5,"sl":-48.5,"bh":-47.5,"bl":-54.5,"rl":-57.5},
{"f":2428.75,"sh":-40,"sl":-44,"bh":-43,"bl":-49.5,"rl":-51.5},
{"f":2429,"sh":-35,"sl":-39,"bh":-38,"bl":-44.5,"rl":-46.5},
{"f":2429.25,"sh":-31,"sl":-35,"bh":-34,"bl":-40.5,"rl":-42.5},
{"f":2429.5,"sh":-27.5,"sl":-31.5,"bh":-31,"bl":-37,"rl":-39},
{"f":2429.75,"sh":-25,"sl":-29,"bh":-28.5,"bl":-34.5,"rl":-36.5},
{"f":2430,"sh":-23,"sl":-27,"bh":-26.5,"bl":-33,"rl":-35},
{"f":2430.25,"sh":-21,"sl":-25,"bh":-24.5,"bl":-31,"rl":-33},
{"f":2430.5,"sh":-18.5,"sl":-22.5,"bh":-21.5,"bl":-28.5,"rl":-30.5},
{"f":2430.75,"sh":-15.5,"sl":-19.5,"bh":-18.5,"bl":-26,"rl":-28},
{"f":2431,"sh":-13,"sl":-17,"bh":-16,"bl":-24,"rl":-25.5},
{"f":2431.2,"sh":-14,"sl":-18,"bh":-17.5,"bl":-24,"rl":-26},
{"f":2431.4,"sh":-17,"sl":-21,"bh":-20,"bl":-27,"rl":-28.5},
{"f":2431.5,"sh":-22,"sl":-26,"bh":-25,"bl":-31,"rl":-33},
{"f":2431.6,"sh":-16,"sl":-20,"bh":-19.5,"bl":-26,"rl":-27.5},
{"f":2431.8,"sh":-8,"sl":-12,"bh":-11.5,"bl":-19,"rl":-20.5},
{"f":2432,"sh":-6.5,"sl":-10.5,"bh":-9.5,"bl":-17,"rl":-18.5},
{"f":2432.5,"sh":-4.5,"sl":-8.5,"bh":-7.5,"bl":-15,"rl":-16.5},
{"f":2433,"sh":-3,"sl":-7,"bh":-6,"bl":-13.5,"rl":-15},
{"f":2433.5,"sh":-1.5,"sl":-5.5,"bh":-5,"bl":-12.5,"rl":-14},
{"f":2434,"sh":-0.5,"sl":-4.5,"bh":-4,"bl":-11.5,"rl":-13},
{"f":2434.5,"sh":0.8,"sl":-3.2,"bh":-3,"bl":-11,"rl":-12},
{"f":2435,"sh":2,"sl":-2,"bh":-2,"bl":-10,"rl":-11},
{"f":2435.5,"sh":3.5,"sl":-0.5,"bh":-1,"bl":-9,"rl":-10.5},
{"f":2436,"sh":4.5,"sl":0.5,"bh":-0.5,"bl":-8.5,"rl":-10},
{"f":2436.4,"sh":5.2,"sl":1.2,"bh":1,"bl":-7.5,"rl":-9},
{"f":2436.6,"sh":1.5,"sl":-2.5,"bh":-3,"bl":-11,"rl":-12.5},
{"f":2436.8,"sh":-2.5,"sl":-6.5,"bh":-7,"bl":-15,"rl":-16.5},
{"f":2437,"sh":-6,"sl":-10,"bh":-11,"bl":-19,"rl":-20.5},
{"f":2437.2,"sh":-2,"sl":-6,"bh":-6,"bl":-14,"rl":-15.5},
{"f":2437.4,"sh":2,"sl":-2,"bh":-2,"bl":-9.5,"rl":-11},
{"f":2437.6,"sh":3.5,"sl":-0.5,"bh":-0.5,"bl":-8.5,"rl":-10},
{"f":2437.8,"sh":4,"sl":0,"bh":0,"bl":-8,"rl":-9.5},
{"f":2438,"sh":4,"sl":0,"bh":0,"bl":-8,"rl":-9.5},
{"f":2438.5,"sh":3.5,"sl":-0.5,"bh":-0.5,"bl":-9,"rl":-10.5},
{"f":2439,"sh":2.5,"sl":-1.5,"bh":-1.5,"bl":-10.5,"rl":-12},
{"f":2439.5,"sh":1.5,"sl":-2.5,"bh":-2.5,"bl":-11.5,"rl":-13},
{"f":2440,"sh":0.5,"sl":-3.5,"bh":-3.5,"bl":-12.5,"rl":-14},
{"f":2440.5,"sh":-1,"sl":-5,"bh":-4.5,"bl":-13.5,"rl":-15},
{"f":2441,"sh":-2.5,"sl":-6.5,"bh":-5.5,"bl":-15,"rl":-16.5},
{"f":2441.5,"sh":-4,"sl":-8,"bh":-7,"bl":-16,"rl":-17.5},
{"f":2442,"sh":-5.5,"sl":-9.5,"bh":-8.5,"bl":-17.5,"rl":-19},
{"f":2442.2,"sh":-9,"sl":-13,"bh":-12,"bl":-20,"rl":-21.5},
{"f":2442.4,"sh":-16,"sl":-20,"bh":-20,"bl":-27,"rl":-28.5},
{"f":2442.5,"sh":-21,"sl":-25,"bh":-24.5,"bl":-32.5,"rl":-34},
{"f":2442.6,"sh":-16,"sl":-20,"bh":-20,"bl":-28,"rl":-29.5},
{"f":2442.8,"sh":-13.5,"sl":-17.5,"bh":-17,"bl":-24,"rl":-25.5},
{"f":2443,"sh":-12.5,"sl":-16.5,"bh":-16.5,"bl":-24.5,"rl":-26},
{"f":2443.25,"sh":-14,"sl":-18,"bh":-18,"bl":-26,"rl":-27.5},
{"f":2443.5,"sh":-17.5,"sl":-21.5,"bh":-21,"bl":-29,"rl":-30.5},
{"f":2444,"sh":-21.5,"sl":-25.5,"bh":-24,"bl":-32,"rl":-34},
{"f":2444.5,"sh":-25.5,"sl":-29.5,"bh":-28,"bl":-36,"rl":-38},
{"f":2445,"sh":-30,"sl":-34,"bh":-31,"bl":-40,"rl":-42},
{"f":2445.25,"sh":-34,"sl":-38,"bh":-36,"bl":-45,"rl":-47},
{"f":2445.5,"sh":-42,"sl":-46,"bh":-44,"bl":-52,"rl":-55},
{"f":2445.75,"sh":-51,"sl":-55,"bh":-54,"bl":-60,"rl":-66},
{"f":2446,"sh":-51,"sl":-55,"bh":-54,"bl":-62,"rl":-67},
{"f":2446.5,"sh":-54,"sl":-58,"bh":-57,"bl":-64,"rl":-67.5},
{"f":2447,"sh":-52,"sl":-56,"bh":-55,"bl":-63,"rl":-66.5},
{"f":2447.5,"sh":-54.5,"sl":-58.5,"bh":-57.5,"bl":-65,"rl":-68},
{"f":2448,"sh":-55,"sl":-59,"bh":-58.5,"bl":-65.5,"rl":-68},
{"f":2448.5,"sh":-55.5,"sl":-59,"bh":-58.5,"bl":-65.5,"rl":-68.5},
{"f":2449,"sh":-55,"sl":-59,"bh":-58.5,"bl":-65,"rl":-68},
{"f":2449.5,"sh":-55.5,"sl":-59,"bh":-58.5,"bl":-65.5,"rl":-68.5},
{"f":2450,"sh":-55,"sl":-59,"bh":-58.5,"bl":-65.5,"rl":-68},
{"f":2450.5,"sh":-55.5,"sl":-59,"bh":-58.5,"bl":-65.5,"rl":-68.5},
{"f":2451,"sh":-55,"sl":-59,"bh":-58.5,"bl":-65,"rl":-68.5},
{"f":2451.5,"sh":-55,"sl":-59,"bh":-58.5,"bl":-65.5,"rl":-68.5},
{"f":2452,"sh":-55,"sl":-58.5,"bh":-58.5,"bl":-65,"rl":-68}
     ]},
     "encoding":{"x":{"field":"f","type":"quantitative","scale":{"domain":[2422,2452],"range":[62,853],"nice":false,"zero":false},"title":null,"axis":{"orient":"bottom","grid":true,"labels":false,"ticks":false,"domain":false,"values":[2422,2424,2426,2428,2430,2432,2434,2436,2438,2440,2442,2444,2446,2448,2450,2452],"zindex":0,"minExtent":0}}},
     "layer":[
      {"mark":{"type":"area","color":"#ff1a1a","opacity":1},"encoding":{"y":{"field":"rl","type":"quantitative","scale":{"domain":[-70,10],"range":[300,9],"nice":false,"zero":false},"title":null,"axis":{"orient":"left","grid":true,"labels":false,"ticks":false,"domain":false,"values":[-70,-60,-50,-40,-30,-20,-10,0,10],"zindex":0,"minExtent":0}},"y2":{"field":"bh"}}},
      {"mark":{"type":"line","color":"#1a9e1a","strokeWidth":1.5,"strokeDash":[2,4]},"encoding":{"y":{"field":"rl","type":"quantitative","title":null}}},
      {"mark":{"type":"line","color":"#ffa31a","strokeWidth":1.5,"strokeDash":[2,4],"strokeDashOffset":3},"encoding":{"y":{"field":"rl","type":"quantitative","title":null}}},
      {"mark":{"type":"area","color":"#000000","opacity":1},"encoding":{"y":{"field":"sl","type":"quantitative","title":null},"y2":{"field":"sh"}}},
      {"mark":{"type":"area","color":"#0033cc","opacity":1},"encoding":{"y":{"field":"bl","type":"quantitative","title":null},"y2":{"field":"bh"}}},
      {"data":{"values":[{"f":2424,"lo":-54,"hi":-50},{"f":2427.2,"lo":-48,"hi":-41},{"f":2446.4,"lo":-55,"hi":-51},{"f":2448.3,"lo":-55,"hi":-44},{"f":2450.9,"lo":-55,"hi":-50},{"f":2451.95,"lo":-55,"hi":-49.5}]},
       "mark":{"type":"rule","color":"#262626","strokeWidth":1},"encoding":{"y":{"field":"lo","type":"quantitative","title":null},"y2":{"field":"hi"}}},
      {"data":{"values":[{"f":2436.3,"db":5.44,"s":"Sum"},{"f":2436.2,"db":1.84,"s":"Port 1"},{"f":2436.45,"db":0.85,"s":"Port 2"},{"f":2438.1,"db":1.24,"s":"Port 3"},{"f":2437.7,"db":2.06,"s":"Port 4"}]},
       "mark":{"type":"point","filled":true,"size":30,"opacity":1},"encoding":{"y":{"field":"db","type":"quantitative","title":null},"color":{"field":"s","type":"nominal","scale":{"domain":["Sum","Port 1","Port 2","Port 3","Port 4"],"range":["#000000","#1f4fe0","#ff0000","#1faa1f","#ffa31a"]},"legend":null}}}
     ]}
   ]},
  {"width":115,"height":136,
   "view":{"fill":{"gradient":"linear","x1":0,"y1":0,"x2":0,"y2":1,"stops":[{"offset":0,"color":"#e2e2e2"},{"offset":0.47,"color":"#e2e2e2"},{"offset":0.47,"color":"#cdcdcd"},{"offset":1,"color":"#cdcdcd"}]},"stroke":"#9a9a9a","cornerRadius":4},
   "data":{"values":[{"s":"Sum"},{"s":"Port 1"},{"s":"Port 2"},{"s":"Port 3"},{"s":"Port 4"}]},
   "encoding":{"y":{"field":"s","type":"nominal","sort":null,"scale":{"type":"point","padding":0.615},"axis":null}},
   "layer":[
    {"mark":{"type":"text","align":"left","baseline":"middle","font":"Liberation Sans","fontSize":13,"color":"#1e1e1e"},"encoding":{"x":{"datum":0.148,"type":"quantitative","scale":{"domain":[0,1]},"axis":null},"text":{"field":"s"}}},
    {"mark":{"type":"point","shape":"M-1,-0.68L1,-0.68L1,0.68L-1,0.68Z","size":961,"filled":true,"fill":"white","stroke":"#8a8a8a","strokeWidth":1,"opacity":1},"encoding":{"x":{"datum":0.752,"type":"quantitative","scale":{"domain":[0,1]},"axis":null}}},
    {"mark":{"type":"point","shape":"M-1,0.4L-0.22,-0.47L0.31,0.35L1,-0.47","size":841,"filled":false,"strokeWidth":1,"opacity":1},"encoding":{"x":{"datum":0.752,"type":"quantitative","scale":{"domain":[0,1]},"axis":null},"color":{"field":"s","type":"nominal","scale":{"domain":["Sum","Port 1","Port 2","Port 3","Port 4"],"range":["#000000","#1f4fe0","#ff0000","#1faa1f","#ffa31a"]},"legend":null}}}
   ]}
 ]},
 {"spacing":0,"hconcat":[
  {"width":87,"height":1,"data":{"values":[]},"mark":"rect","view":{"fill":"white","stroke":null}},
  {"width":621,"height":89,
   "view":{"fill":{"gradient":"linear","x1":0,"y1":0,"x2":0,"y2":1,"stops":[{"offset":0,"color":"#e2e2e2"},{"offset":0.48,"color":"#e2e2e2"},{"offset":0.48,"color":"#cdcdcd"},{"offset":1,"color":"#cdcdcd"}]},"stroke":"#9a9a9a","cornerRadius":4},
   "data":{"values":[{"name":"Sum","unit":"(dBm/RBW)","value":"5.44"},{"name":"PD","unit":"(dBm/RBW)","value":"5.44"},{"name":"Port 1","unit":"(dBm/RBW)","value":"1.84"},{"name":"Port 2","unit":"(dBm/RBW)","value":"0.85"},{"name":"Port 3","unit":"(dBm/RBW)","value":"1.24"},{"name":"Port 4","unit":"(dBm/RBW)","value":"2.06"}]},
   "transform":[{"fold":["name","unit","value"],"as":["row","txt"]}],
   "encoding":{"x":{"field":"name","type":"nominal","sort":null,"scale":{"type":"band","paddingInner":0,"paddingOuter":0.1154,"align":0.52},"axis":null},"y":{"field":"row","type":"nominal","sort":["name","unit","value"],"scale":{"type":"band","paddingInner":0,"paddingOuter":0.586,"align":0.52},"axis":null}},
   "layer":[
    {"mark":{"type":"rect","fill":"white","stroke":"#c4c4c4","strokeWidth":1}},
    {"mark":{"type":"text","align":"left","baseline":"middle","font":"Liberation Sans","fontSize":13,"color":"#1e1e1e"},"encoding":{"x":{"field":"name","type":"nominal","sort":null,"bandPosition":0.07,"scale":{"type":"band","paddingInner":0,"paddingOuter":0.1154,"align":0.52},"axis":null},"text":{"field":"txt"}}}
   ]}
 ]}
]},
{"spacing":0,"vconcat":[
 {"width":1279,"height":4,"data":{"values":[]},"mark":"rect","view":{"fill":"#000000","stroke":null}},
 {"width":1279,"height":110,"view":{"fill":"white","stroke":null},
  "data":{"values":[{"c":"L","l":"1","t":"802.11b_Nss1,(1Mbps)_4TX"},{"c":"L","l":"2","t":"2462MHz"},{"c":"R","l":"1","t":"PSD"},{"c":"R","l":"2","t":"26/01/2018"}]},
  "encoding":{"x":{"field":"c","type":"nominal","scale":{"type":"point","domain":["L","R"],"padding":0.0867,"align":0.4815},"axis":null},"y":{"field":"l","type":"nominal","scale":{"type":"point","domain":["1","2"],"padding":0.67,"align":0.825},"axis":null},"text":{"field":"t"}},
  "layer":[
   {"transform":[{"filter":"datum.c=='L'"}],"mark":{"type":"text","align":"left","baseline":"alphabetic","font":"Liberation Sans","fontSize":29,"fontWeight":"bold","color":"#000000"}},
   {"transform":[{"filter":"datum.c=='R'&&datum.l=='1'"}],"mark":{"type":"text","align":"right","baseline":"alphabetic","font":"Liberation Sans","fontSize":29,"fontWeight":"bold","color":"#000000"}},
   {"transform":[{"filter":"datum.c=='R'&&datum.l=='2'"}],"mark":{"type":"text","align":"right","baseline":"alphabetic","font":"Liberation Sans","fontSize":12,"color":"#222222"}}
  ]},
 {"spacing":0,"hconcat":[
  {"width":87,"height":1,"data":{"values":[]},"mark":"rect","view":{"fill":"white","stroke":null}},
  {"width":111,"height":268,
   "view":{"fill":{"gradient":"linear","x1":0,"y1":0,"x2":0,"y2":1,"stops":[{"offset":0,"color":"#e2e2e2"},{"offset":0.58,"color":"#e2e2e2"},{"offset":0.58,"color":"#cdcdcd"},{"offset":1,"color":"#cdcdcd"}]},"stroke":"#9a9a9a","cornerRadius":4},
   "data":{"values":[{"p":"Ch Freq","v":"2.462GHz"},{"p":"Span","v":"30MHz"},{"p":"RBW","v":"3kHz"},{"p":"VBW","v":"10kHz"},{"p":"Sweep Time","v":"334ms"},{"p":"Detector Type","v":"Peak"}]},
   "resolve":{"scale":{"y":"independent"}},
   "layer":[
    {"mark":{"type":"rect","fill":"white","stroke":"#8c8c8c","strokeWidth":1},"encoding":{"y":{"field":"p","type":"nominal","sort":null,"scale":{"type":"band","paddingInner":0.48,"paddingOuter":0.4845,"align":0.7},"axis":null},"x":{"datum":0.072,"type":"quantitative","scale":{"domain":[0,1]},"axis":null},"x2":{"datum":0.919}}},
    {"mark":{"type":"text","align":"left","baseline":"middle","font":"Liberation Sans","fontSize":13,"color":"#1e1e1e"},"encoding":{"y":{"field":"p","type":"nominal","sort":null,"scale":{"type":"band","paddingInner":0.48,"paddingOuter":0.4845,"align":0.7},"axis":null},"x":{"datum":0.1,"type":"quantitative","scale":{"domain":[0,1]},"axis":null},"text":{"field":"v"}}},
    {"mark":{"type":"text","align":"left","baseline":"middle","font":"Liberation Sans","fontSize":13,"color":"#1e1e1e"},"encoding":{"y":{"field":"p","type":"nominal","sort":null,"scale":{"type":"point","padding":0.7445,"align":0.244},"axis":null},"x":{"datum":0.072,"type":"quantitative","scale":{"domain":[0,1]},"axis":null},"text":{"field":"p"}}}
   ]},
  {"width":878,"height":340,"view":{"fill":"white","stroke":null},
   "resolve":{"scale":{"x":"independent","y":"independent"}},
   "layer":[
    {"data":{"values":[{}]},
     "layer":[
      {"mark":{"type":"rect","fill":"white"},"encoding":{"x":{"datum":2444.6485,"type":"quantitative","scale":{"domain":[2444.6485,2477.9482],"nice":false,"zero":false},"title":null,"axis":{"orient":"bottom","grid":false,"domain":false,"values":[2447,2448,2450,2452,2454,2456,2458,2460,2462,2464,2466,2468,2470,2472,2474,2476,2477],"labelExpr":"datum.value==2448||datum.value==2476?'':format(datum.value/1000,'.4~f')+'G'","tickSize":5,"offset":-38,"labelPadding":4,"labelFlush":false,"labelOverlap":false,"zindex":1,"minExtent":0}},"x2":{"datum":2445.0657},"y":{"datum":-80.9966,"type":"quantitative","scale":{"domain":[-80.9966,12.4742],"nice":false,"zero":false},"title":null,"axis":{"orient":"left","grid":false,"domain":false,"values":[-70,-60,-50,-40,-30,-20,-10,0,10],"labelExpr":"''+datum.value","tickSize":6,"offset":-61,"labelPadding":4,"zindex":1,"minExtent":0}},"y2":{"datum":12.4742}}},
      {"mark":{"type":"rect","fill":"white"},"encoding":{"x":{"datum":2477.8723,"type":"quantitative","title":null},"x2":{"datum":2477.9482},"y":{"datum":-80.9966,"type":"quantitative","title":null},"y2":{"datum":12.4742}}},
      {"mark":{"type":"rect","fill":"white"},"encoding":{"x":{"datum":2444.6485,"type":"quantitative","title":null},"x2":{"datum":2477.9482},"y":{"datum":-80.9966,"type":"quantitative","title":null},"y2":{"datum":-79.072}}},
      {"mark":{"type":"rect","fill":{"gradient":"linear","x1":0,"y1":0,"x2":0,"y2":1,"stops":[{"offset":0,"color":"#e2e2e2"},{"offset":0.4685,"color":"#e2e2e2"},{"offset":0.4685,"color":"#cdcdcd"},{"offset":1,"color":"#cdcdcd"}]}},"encoding":{"x":{"datum":2445.0657,"type":"quantitative","title":null},"x2":{"datum":2447},"y":{"datum":-79.072,"type":"quantitative","title":null},"y2":{"datum":12.4742}}},
      {"mark":{"type":"rect","fill":{"gradient":"linear","x1":0,"y1":0,"x2":0,"y2":1,"stops":[{"offset":0,"color":"#e2e2e2"},{"offset":0.4685,"color":"#e2e2e2"},{"offset":0.4685,"color":"#cdcdcd"},{"offset":1,"color":"#cdcdcd"}]}},"encoding":{"x":{"datum":2477,"type":"quantitative","title":null},"x2":{"datum":2477.8723},"y":{"datum":-79.072,"type":"quantitative","title":null},"y2":{"datum":12.4742}}},
      {"mark":{"type":"rect","fill":"#e2e2e2"},"encoding":{"x":{"datum":2447,"type":"quantitative","title":null},"x2":{"datum":2477},"y":{"datum":10,"type":"quantitative","title":null},"y2":{"datum":12.4742}}},
      {"mark":{"type":"rect","fill":"#cdcdcd"},"encoding":{"x":{"datum":2447,"type":"quantitative","title":null},"x2":{"datum":2477},"y":{"datum":-79.072,"type":"quantitative","title":null},"y2":{"datum":-70}}},
      {"mark":{"type":"rect","fillOpacity":0,"stroke":"#a3a3a3","strokeWidth":1.5,"cornerRadius":4},"encoding":{"x":{"datum":2445.0657,"type":"quantitative","title":null},"x2":{"datum":2477.8723},"y":{"datum":-79.072,"type":"quantitative","title":null},"y2":{"datum":12.4742}}},
      {"mark":{"type":"rect","fillOpacity":0,"stroke":"#8c8c8c","strokeWidth":1},"encoding":{"x":{"datum":2447,"type":"quantitative","title":null},"x2":{"datum":2477},"y":{"datum":-70,"type":"quantitative","title":null},"y2":{"datum":10}}}
     ]},
    {"data":{"values":[
{"f":2447,"sh":-54,"sl":-58,"bh":-57,"bl":-64,"rl":-66.5},
{"f":2447.5,"sh":-53,"sl":-57,"bh":-56,"bl":-63.5,"rl":-66.5},
{"f":2448,"sh":-52.5,"sl":-56.5,"bh":-56,"bl":-63.5,"rl":-66},
{"f":2448.5,"sh":-52.5,"sl":-56.5,"bh":-56,"bl":-63.5,"rl":-66.5},
{"f":2449,"sh":-53,"sl":-57,"bh":-56,"bl":-63.5,"rl":-66.5},
{"f":2449.5,"sh":-54,"sl":-58,"bh":-57,"bl":-64.5,"rl":-67},
{"f":2450,"sh":-56,"sl":-59.5,"bh":-58,"bl":-65.5,"rl":-68},
{"f":2450.5,"sh":-57,"sl":-60,"bh":-58.5,"bl":-66,"rl":-68.5},
{"f":2451,"sh":-56.5,"sl":-60,"bh":-58.5,"bl":-65.5,"rl":-68},
{"f":2451.25,"sh":-52.5,"sl":-56.5,"bh":-55.5,"bl":-63,"rl":-66},
{"f":2451.5,"sh":-49.5,"sl":-53.5,"bh":-53,"bl":-60,"rl":-63.5},
{"f":2451.75,"sh":-48,"sl":-52,"bh":-51.5,"bl":-58.5,"rl":-62},
{"f":2452,"sh":-47.5,"sl":-51.5,"bh":-51,"bl":-58,"rl":-62},
{"f":2452.25,"sh":-47.5,"sl":-51.5,"bh":-51,"bl":-58.5,"rl":-62.5},
{"f":2452.5,"sh":-48,"sl":-52,"bh":-51.5,"bl":-59,"rl":-63},
{"f":2452.75,"sh":-48.5,"sl":-52.5,"bh":-51.5,"bl":-59,"rl":-63},
{"f":2453,"sh":-48,"sl":-52,"bh":-51,"bl":-59,"rl":-63},
{"f":2453.25,"sh":-46.5,"sl":-50.5,"bh":-50,"bl":-57,"rl":-60.5},
{"f":2453.5,"sh":-44.5,"sl":-48.5,"bh":-47.5,"bl":-54.5,"rl":-57.5},
{"f":2453.75,"sh":-40,"sl":-44,"bh":-43,"bl":-49.5,"rl":-51.5},
{"f":2454,"sh":-35,"sl":-39,"bh":-38,"bl":-44.5,"rl":-46.5},
{"f":2454.25,"sh":-31,"sl":-35,"bh":-34,"bl":-40.5,"rl":-42.5},
{"f":2454.5,"sh":-27.5,"sl":-31.5,"bh":-31,"bl":-37,"rl":-39},
{"f":2454.75,"sh":-25,"sl":-29,"bh":-28.5,"bl":-34.5,"rl":-36.5},
{"f":2455,"sh":-23,"sl":-27,"bh":-26.5,"bl":-33,"rl":-35},
{"f":2455.25,"sh":-21,"sl":-25,"bh":-24.5,"bl":-31,"rl":-33},
{"f":2455.5,"sh":-18.5,"sl":-22.5,"bh":-21.5,"bl":-28.5,"rl":-30.5},
{"f":2455.75,"sh":-15.5,"sl":-19.5,"bh":-18.5,"bl":-26,"rl":-28},
{"f":2456,"sh":-13,"sl":-17,"bh":-16,"bl":-24,"rl":-25.5},
{"f":2456.2,"sh":-14,"sl":-18,"bh":-17.5,"bl":-24,"rl":-26},
{"f":2456.4,"sh":-17,"sl":-21,"bh":-20,"bl":-27,"rl":-28.5},
{"f":2456.5,"sh":-22,"sl":-26,"bh":-25,"bl":-31,"rl":-33},
{"f":2456.6,"sh":-16,"sl":-20,"bh":-19.5,"bl":-26,"rl":-27.5},
{"f":2456.8,"sh":-8,"sl":-12,"bh":-11.5,"bl":-19,"rl":-20.5},
{"f":2457,"sh":-6.5,"sl":-10.5,"bh":-9.5,"bl":-17,"rl":-18.5},
{"f":2457.5,"sh":-4.5,"sl":-8.5,"bh":-7.5,"bl":-15,"rl":-16.5},
{"f":2458,"sh":-3,"sl":-7,"bh":-6,"bl":-13.5,"rl":-15},
{"f":2458.5,"sh":-1.5,"sl":-5.5,"bh":-5,"bl":-12.5,"rl":-14},
{"f":2459,"sh":-0.5,"sl":-4.5,"bh":-4,"bl":-11.5,"rl":-13},
{"f":2459.5,"sh":0.8,"sl":-3.2,"bh":-3,"bl":-11,"rl":-12},
{"f":2460,"sh":2,"sl":-2,"bh":-2,"bl":-10,"rl":-11},
{"f":2460.5,"sh":3.5,"sl":-0.5,"bh":-1,"bl":-9,"rl":-10.5},
{"f":2461,"sh":4.5,"sl":0.5,"bh":-0.5,"bl":-8.5,"rl":-10},
{"f":2461.4,"sh":5.2,"sl":1.2,"bh":1,"bl":-7.5,"rl":-9},
{"f":2461.6,"sh":1.5,"sl":-2.5,"bh":-3,"bl":-11,"rl":-12.5},
{"f":2461.8,"sh":-2.5,"sl":-6.5,"bh":-7,"bl":-15,"rl":-16.5},
{"f":2462,"sh":-6,"sl":-10,"bh":-11,"bl":-19,"rl":-20.5},
{"f":2462.2,"sh":-2,"sl":-6,"bh":-6,"bl":-14,"rl":-15.5},
{"f":2462.4,"sh":2,"sl":-2,"bh":-2,"bl":-9.5,"rl":-11},
{"f":2462.6,"sh":3.5,"sl":-0.5,"bh":-0.5,"bl":-8.5,"rl":-10},
{"f":2462.8,"sh":4,"sl":0,"bh":0,"bl":-8,"rl":-9.5},
{"f":2463,"sh":4,"sl":0,"bh":0,"bl":-8,"rl":-9.5},
{"f":2463.5,"sh":3.5,"sl":-0.5,"bh":-0.5,"bl":-9,"rl":-10.5},
{"f":2464,"sh":2.5,"sl":-1.5,"bh":-1.5,"bl":-10.5,"rl":-12},
{"f":2464.5,"sh":1.5,"sl":-2.5,"bh":-2.5,"bl":-11.5,"rl":-13},
{"f":2465,"sh":0.5,"sl":-3.5,"bh":-3.5,"bl":-12.5,"rl":-14},
{"f":2465.5,"sh":-1,"sl":-5,"bh":-4.5,"bl":-13.5,"rl":-15},
{"f":2466,"sh":-2.5,"sl":-6.5,"bh":-5.5,"bl":-15,"rl":-16.5},
{"f":2466.5,"sh":-4,"sl":-8,"bh":-7,"bl":-16,"rl":-17.5},
{"f":2467,"sh":-5.5,"sl":-9.5,"bh":-8.5,"bl":-17.5,"rl":-19},
{"f":2467.2,"sh":-9,"sl":-13,"bh":-12,"bl":-20,"rl":-21.5},
{"f":2467.4,"sh":-16,"sl":-20,"bh":-20,"bl":-27,"rl":-28.5},
{"f":2467.5,"sh":-21,"sl":-25,"bh":-24.5,"bl":-32.5,"rl":-34},
{"f":2467.6,"sh":-16,"sl":-20,"bh":-20,"bl":-28,"rl":-29.5},
{"f":2467.8,"sh":-13.5,"sl":-17.5,"bh":-17,"bl":-24,"rl":-25.5},
{"f":2468,"sh":-12.5,"sl":-16.5,"bh":-16.5,"bl":-24.5,"rl":-26},
{"f":2468.25,"sh":-14,"sl":-18,"bh":-18,"bl":-26,"rl":-27.5},
{"f":2468.5,"sh":-17.5,"sl":-21.5,"bh":-21,"bl":-29,"rl":-30.5},
{"f":2469,"sh":-21.5,"sl":-25.5,"bh":-24,"bl":-32,"rl":-34},
{"f":2469.5,"sh":-25.5,"sl":-29.5,"bh":-28,"bl":-36,"rl":-38},
{"f":2470,"sh":-30,"sl":-34,"bh":-31,"bl":-40,"rl":-42},
{"f":2470.25,"sh":-34,"sl":-38,"bh":-36,"bl":-45,"rl":-47},
{"f":2470.5,"sh":-42,"sl":-46,"bh":-44,"bl":-52,"rl":-55},
{"f":2470.75,"sh":-51,"sl":-55,"bh":-54,"bl":-60,"rl":-66},
{"f":2471,"sh":-51,"sl":-55,"bh":-54,"bl":-62,"rl":-67},
{"f":2471.5,"sh":-54,"sl":-58,"bh":-57,"bl":-64,"rl":-67.5},
{"f":2472,"sh":-52,"sl":-56,"bh":-55,"bl":-63,"rl":-66.5},
{"f":2472.5,"sh":-54.5,"sl":-58.5,"bh":-57.5,"bl":-65,"rl":-68},
{"f":2473,"sh":-55,"sl":-59,"bh":-58.5,"bl":-65.5,"rl":-68},
{"f":2473.5,"sh":-55.5,"sl":-59,"bh":-58.5,"bl":-65.5,"rl":-68.5},
{"f":2474,"sh":-55,"sl":-59,"bh":-58.5,"bl":-65,"rl":-68},
{"f":2474.5,"sh":-55.5,"sl":-59,"bh":-58.5,"bl":-65.5,"rl":-68.5},
{"f":2475,"sh":-55,"sl":-59,"bh":-58.5,"bl":-65.5,"rl":-68},
{"f":2475.5,"sh":-55.5,"sl":-59,"bh":-58.5,"bl":-65.5,"rl":-68.5},
{"f":2476,"sh":-55,"sl":-59,"bh":-58.5,"bl":-65,"rl":-68.5},
{"f":2476.5,"sh":-55,"sl":-59,"bh":-58.5,"bl":-65.5,"rl":-68.5},
{"f":2477,"sh":-55,"sl":-58.5,"bh":-58.5,"bl":-65,"rl":-68}
     ]},
     "encoding":{"x":{"field":"f","type":"quantitative","scale":{"domain":[2447,2477],"range":[62,853],"nice":false,"zero":false},"title":null,"axis":{"orient":"bottom","grid":true,"labels":false,"ticks":false,"domain":false,"values":[2447,2448,2450,2452,2454,2456,2458,2460,2462,2464,2466,2468,2470,2472,2474,2476,2477],"zindex":0,"minExtent":0}}},
     "layer":[
      {"mark":{"type":"area","color":"#ff1a1a","opacity":1},"encoding":{"y":{"field":"rl","type":"quantitative","scale":{"domain":[-70,10],"range":[300,9],"nice":false,"zero":false},"title":null,"axis":{"orient":"left","grid":true,"labels":false,"ticks":false,"domain":false,"values":[-70,-60,-50,-40,-30,-20,-10,0,10],"zindex":0,"minExtent":0}},"y2":{"field":"bh"}}},
      {"mark":{"type":"line","color":"#1a9e1a","strokeWidth":1.5,"strokeDash":[2,4]},"encoding":{"y":{"field":"rl","type":"quantitative","title":null}}},
      {"mark":{"type":"line","color":"#ffa31a","strokeWidth":1.5,"strokeDash":[2,4],"strokeDashOffset":3},"encoding":{"y":{"field":"rl","type":"quantitative","title":null}}},
      {"mark":{"type":"area","color":"#000000","opacity":1},"encoding":{"y":{"field":"sl","type":"quantitative","title":null},"y2":{"field":"sh"}}},
      {"mark":{"type":"area","color":"#0033cc","opacity":1},"encoding":{"y":{"field":"bl","type":"quantitative","title":null},"y2":{"field":"bh"}}},
      {"data":{"values":[{"f":2449.1,"lo":-54,"hi":-49},{"f":2451,"lo":-56,"hi":-45},{"f":2452.1,"lo":-48,"hi":-44},{"f":2473.7,"lo":-55,"hi":-50},{"f":2476,"lo":-55,"hi":-50},{"f":2476.95,"lo":-55,"hi":-50}]},
       "mark":{"type":"rule","color":"#262626","strokeWidth":1},"encoding":{"y":{"field":"lo","type":"quantitative","title":null},"y2":{"field":"hi"}}},
      {"data":{"values":[{"f":2461.3,"db":5.47,"s":"Sum"},{"f":2461.2,"db":1.17,"s":"Port 1"},{"f":2461.45,"db":1.08,"s":"Port 2"},{"f":2462.7,"db":2.46,"s":"Port 3"},{"f":2461.1,"db":1.63,"s":"Port 4"}]},
       "mark":{"type":"point","filled":true,"size":30,"opacity":1},"encoding":{"y":{"field":"db","type":"quantitative","title":null},"color":{"field":"s","type":"nominal","scale":{"domain":["Sum","Port 1","Port 2","Port 3","Port 4"],"range":["#000000","#1f4fe0","#ff0000","#1faa1f","#ffa31a"]},"legend":null}}}
     ]}
   ]},
  {"width":115,"height":136,
   "view":{"fill":{"gradient":"linear","x1":0,"y1":0,"x2":0,"y2":1,"stops":[{"offset":0,"color":"#e2e2e2"},{"offset":0.47,"color":"#e2e2e2"},{"offset":0.47,"color":"#cdcdcd"},{"offset":1,"color":"#cdcdcd"}]},"stroke":"#9a9a9a","cornerRadius":4},
   "data":{"values":[{"s":"Sum"},{"s":"Port 1"},{"s":"Port 2"},{"s":"Port 3"},{"s":"Port 4"}]},
   "encoding":{"y":{"field":"s","type":"nominal","sort":null,"scale":{"type":"point","padding":0.615},"axis":null}},
   "layer":[
    {"mark":{"type":"text","align":"left","baseline":"middle","font":"Liberation Sans","fontSize":13,"color":"#1e1e1e"},"encoding":{"x":{"datum":0.148,"type":"quantitative","scale":{"domain":[0,1]},"axis":null},"text":{"field":"s"}}},
    {"mark":{"type":"point","shape":"M-1,-0.68L1,-0.68L1,0.68L-1,0.68Z","size":961,"filled":true,"fill":"white","stroke":"#8a8a8a","strokeWidth":1,"opacity":1},"encoding":{"x":{"datum":0.752,"type":"quantitative","scale":{"domain":[0,1]},"axis":null}}},
    {"mark":{"type":"point","shape":"M-1,0.4L-0.22,-0.47L0.31,0.35L1,-0.47","size":841,"filled":false,"strokeWidth":1,"opacity":1},"encoding":{"x":{"datum":0.752,"type":"quantitative","scale":{"domain":[0,1]},"axis":null},"color":{"field":"s","type":"nominal","scale":{"domain":["Sum","Port 1","Port 2","Port 3","Port 4"],"range":["#000000","#1f4fe0","#ff0000","#1faa1f","#ffa31a"]},"legend":null}}}
   ]}
 ]},
 {"spacing":0,"hconcat":[
  {"width":87,"height":1,"data":{"values":[]},"mark":"rect","view":{"fill":"white","stroke":null}},
  {"width":621,"height":89,
   "view":{"fill":{"gradient":"linear","x1":0,"y1":0,"x2":0,"y2":1,"stops":[{"offset":0,"color":"#e2e2e2"},{"offset":0.48,"color":"#e2e2e2"},{"offset":0.48,"color":"#cdcdcd"},{"offset":1,"color":"#cdcdcd"}]},"stroke":"#9a9a9a","cornerRadius":4},
   "data":{"values":[{"name":"Sum","unit":"(dBm/RBW)","value":"5.47"},{"name":"PD","unit":"(dBm/RBW)","value":"5.47"},{"name":"Port 1","unit":"(dBm/RBW)","value":"1.17"},{"name":"Port 2","unit":"(dBm/RBW)","value":"1.08"},{"name":"Port 3","unit":"(dBm/RBW)","value":"2.46"},{"name":"Port 4","unit":"(dBm/RBW)","value":"1.63"}]},
   "transform":[{"fold":["name","unit","value"],"as":["row","txt"]}],
   "encoding":{"x":{"field":"name","type":"nominal","sort":null,"scale":{"type":"band","paddingInner":0,"paddingOuter":0.1154,"align":0.52},"axis":null},"y":{"field":"row","type":"nominal","sort":["name","unit","value"],"scale":{"type":"band","paddingInner":0,"paddingOuter":0.586,"align":0.52},"axis":null}},
   "layer":[
    {"mark":{"type":"rect","fill":"white","stroke":"#c4c4c4","strokeWidth":1}},
    {"mark":{"type":"text","align":"left","baseline":"middle","font":"Liberation Sans","fontSize":13,"color":"#1e1e1e"},"encoding":{"x":{"field":"name","type":"nominal","sort":null,"bandPosition":0.07,"scale":{"type":"band","paddingInner":0,"paddingOuter":0.1154,"align":0.52},"axis":null},"text":{"field":"txt"}}}
   ]}
 ]}
]}
]},
{"width":4,"height":1654,"data":{"values":[]},"mark":"rect","view":{"fill":"#000000","stroke":null}}
]
}
